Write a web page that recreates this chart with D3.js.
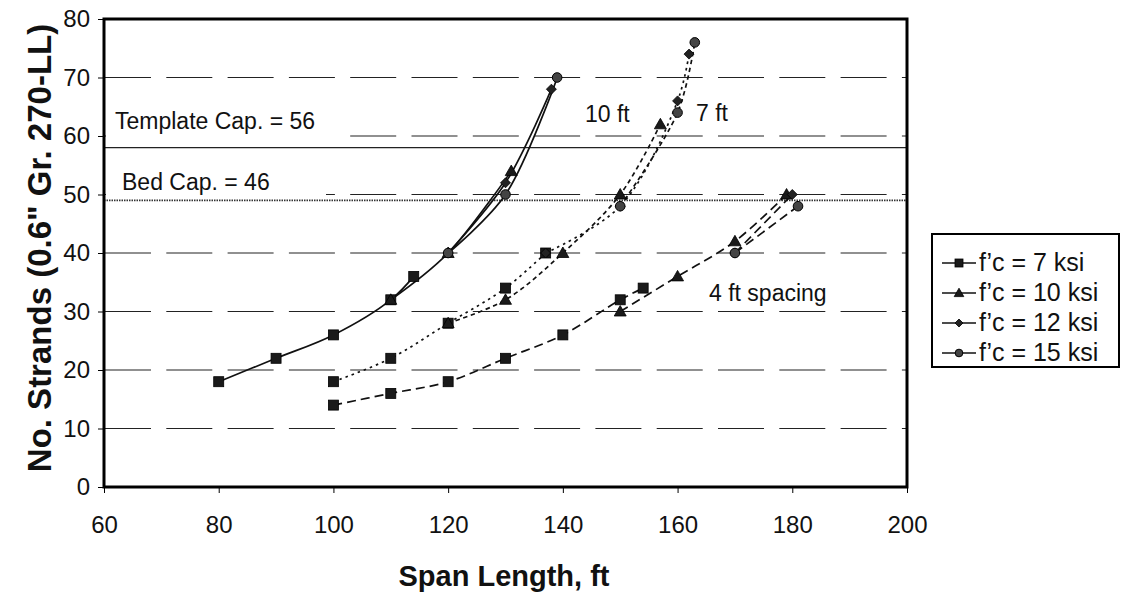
<!DOCTYPE html>
<html><head><meta charset="utf-8">
<script src="https://cdn.jsdelivr.net/npm/d3@7"></script>
<style>
body{margin:0;background:#fff;}
svg{display:block;font-family:"Liberation Sans",Arial,Helvetica,sans-serif;}
</style></head>
<body>
<svg id="c" width="1121" height="595"></svg>
<script>
// ---------------- data ----------------
const xTicks = [60, 80, 100, 120, 140, 160, 180, 200];
const yTicks = [0, 10, 20, 30, 40, 50, 60, 70, 80];
const gridValues = [10, 20, 30, 40, 50, 60, 70];
const fcLabels = ["f\u2019c = 7 ksi", "f\u2019c = 10 ksi", "f\u2019c = 12 ksi", "f\u2019c = 15 ksi"];
const markerTypes = ["square", "triangle", "diamond", "circle"];

// 10 ft spacing (solid)
const s10_fc7_x = [80, 90, 100, 110, 114];   const s10_fc7_y = [18, 22, 26, 32, 36];
const s10_fc10_x = [110, 120, 131];          const s10_fc10_y = [32, 40, 54];
const s10_fc12_x = [120, 130, 138];          const s10_fc12_y = [40, 52, 68];
const s10_fc15_x = [120, 130, 139];          const s10_fc15_y = [40, 50, 70];
// 7 ft spacing (dotted / short dash)
const s7_fc7_x = [100, 110, 120, 130, 137];  const s7_fc7_y = [18, 22, 28, 34, 40];
const s7_fc10_x = [120, 130, 140, 150, 157]; const s7_fc10_y = [28, 32, 40, 50, 62];
const s7_fc12_x = [137, 150, 160, 162];      const s7_fc12_y = [40, 48, 66, 74];
const s7_fc15_x = [150, 160, 163];           const s7_fc15_y = [48, 64, 76];
// 4 ft spacing (dashed)
const s4_fc7_x = [100, 110, 120, 130, 140, 150, 154]; const s4_fc7_y = [14, 16, 18, 22, 26, 32, 34];
const s4_fc10_x = [150, 160, 170, 179];      const s4_fc10_y = [30, 36, 42, 50];
const s4_fc12_x = [170, 180];                const s4_fc12_y = [40, 50];
const s4_fc15_x = [170, 181];                const s4_fc15_y = [40, 48];

const capValues = [58, 49];
const capLabels = ["Template Cap. = 56", "Bed Cap. = 46"];
const groupLabels = ["10 ft", "7 ft", "4 ft spacing"];

// ---------------- build ----------------
const zip = (xs, ys) => xs.map((v, i) => ({x: v, y: ys[i]}));
const series = [
  {g: 0, m: 0, pts: zip(s10_fc7_x, s10_fc7_y)},
  {g: 0, m: 1, pts: zip(s10_fc10_x, s10_fc10_y)},
  {g: 0, m: 2, pts: zip(s10_fc12_x, s10_fc12_y)},
  {g: 0, m: 3, pts: zip(s10_fc15_x, s10_fc15_y)},
  {g: 1, m: 0, pts: zip(s7_fc7_x, s7_fc7_y), dash: "2.5,4"},
  {g: 1, m: 1, pts: zip(s7_fc10_x, s7_fc10_y), dash: "4.5,3.5"},
  {g: 1, m: 2, pts: zip(s7_fc12_x, s7_fc12_y), dash: "2.5,4"},
  {g: 1, m: 3, pts: zip(s7_fc15_x, s7_fc15_y), dash: "4.5,3.5"},
  {g: 2, m: 0, pts: zip(s4_fc7_x, s4_fc7_y), dash: "9,5"},
  {g: 2, m: 1, pts: zip(s4_fc10_x, s4_fc10_y), dash: "9,5"},
  {g: 2, m: 2, pts: zip(s4_fc12_x, s4_fc12_y), dash: "9,5"},
  {g: 2, m: 3, pts: zip(s4_fc15_x, s4_fc15_y), dash: "9,5"}
];

const svg = d3.select("#c");
const L = 104, R = 907, T = 19, B = 487;
const x = d3.scaleLinear().domain([60, 200]).range([L, R]);
const y = d3.scaleLinear().domain([0, 80]).range([B, T]);

// gridlines
svg.append("g").selectAll("line").data(gridValues).join("line")
  .attr("x1", L + 1).attr("x2", R).attr("y1", d => y(d)).attr("y2", d => y(d))
  .attr("stroke", "#222").attr("stroke-width", 1.2).attr("stroke-dasharray", "46,15.3");

// capacity lines
svg.append("line").attr("x1", L).attr("x2", R).attr("y1", y(capValues[0])).attr("y2", y(capValues[0]))
  .attr("stroke", "#222").attr("stroke-width", 1.3);
svg.append("line").attr("x1", L).attr("x2", R).attr("y1", y(capValues[1])).attr("y2", y(capValues[1]))
  .attr("stroke", "#333").attr("stroke-width", 1.6).attr("stroke-dasharray", "1.5,1");

// cap labels with white background
const capLab = [{t: capLabels[0], x: 115, y: 129, bx: 106, bw: 240, by: 103, bh: 38},
                {t: capLabels[1], x: 122, y: 190, bx: 106, bw: 220, by: 163, bh: 34}];
capLab.forEach(c => {
  svg.append("rect").attr("x", c.bx).attr("y", c.by).attr("width", c.bw).attr("height", c.bh).attr("fill", "#fff");
  svg.append("text").attr("x", c.x).attr("y", c.y).attr("font-size", 23).attr("fill", "#111").text(c.t);
});

// lines
const line = d3.line().x(d => x(d.x)).y(d => y(d.y)).curve(d3.curveCatmullRom.alpha(0.5));
svg.append("g").selectAll("path").data(series).join("path")
  .attr("d", d => line(d.pts)).attr("fill", "none").attr("stroke", "#111")
  .attr("stroke-width", 1.7).attr("stroke-dasharray", d => d.dash || null);

// markers
function drawMarker(sel, type, cx, cy, scale) {
  const s = scale || 1;
  if (type === "square") {
    sel.append("rect").attr("x", cx - 5 * s).attr("y", cy - 5 * s).attr("width", 10 * s).attr("height", 10 * s)
      .attr("fill", "#1a1a1a").attr("stroke", "#000").attr("stroke-width", 0.8);
  } else if (type === "triangle") {
    const h = 6 * s;
    sel.append("path").attr("d", `M${cx},${cy - h}L${cx + h},${cy + h * 0.75}L${cx - h},${cy + h * 0.75}Z`)
      .attr("fill", "#1a1a1a").attr("stroke", "#000").attr("stroke-width", 0.8);
  } else if (type === "diamond") {
    const h = 5 * s;
    sel.append("path").attr("d", `M${cx},${cy - h}L${cx + h},${cy}L${cx},${cy + h}L${cx - h},${cy}Z`)
      .attr("fill", "#222").attr("stroke", "#000").attr("stroke-width", 0.8);
  } else {
    sel.append("circle").attr("cx", cx).attr("cy", cy).attr("r", 4.8 * s)
      .attr("fill", "#444").attr("stroke", "#000").attr("stroke-width", 1);
  }
}
const mg = svg.append("g");
series.forEach(sr => sr.pts.forEach(p => drawMarker(mg, markerTypes[sr.m], x(p.x), y(p.y))));

// group labels
const grpPos = [{x: 585, y: 122}, {x: 696, y: 121}, {x: 709, y: 301}];
groupLabels.forEach((t, i) => svg.append("text").attr("x", grpPos[i].x).attr("y", grpPos[i].y)
  .attr("font-size", 23).attr("fill", "#111").text(t));

// frame
svg.append("rect").attr("x", L).attr("y", T).attr("width", R - L).attr("height", B - T)
  .attr("fill", "none").attr("stroke", "#000").attr("stroke-width", 3);

// axes
const xAxis = d3.axisBottom(x).tickValues(xTicks).tickSize(6).tickPadding(23).tickFormat(d3.format("d"));
const gx = svg.append("g").attr("transform", `translate(0,${B})`).call(xAxis);
gx.select(".domain").remove();
gx.selectAll("text").attr("font-size", 24).attr("fill", "#111").attr("font-family", "Liberation Sans, Arial, sans-serif");
const yAxis = d3.axisLeft(y).tickValues(yTicks).tickSize(6).tickPadding(8).tickFormat(d3.format("d"));
const gy = svg.append("g").attr("transform", `translate(${L},0)`).call(yAxis);
gy.select(".domain").remove();
gy.selectAll("text").attr("font-size", 24).attr("fill", "#111").attr("font-family", "Liberation Sans, Arial, sans-serif");

// axis titles
svg.append("text").attr("x", 504).attr("y", 586).attr("text-anchor", "middle")
  .attr("font-size", 29).attr("font-weight", "bold").attr("fill", "#111").text("Span Length, ft");
svg.append("text").attr("transform", `translate(51,248) rotate(-90)`).attr("text-anchor", "middle")
  .attr("font-size", 33).attr("font-weight", "bold").attr("fill", "#111").text("No. Strands (0.6\" Gr. 270-LL)");

// legend
const lg = svg.append("g");
lg.append("rect").attr("x", 932).attr("y", 234).attr("width", 187).attr("height", 133)
  .attr("fill", "#fff").attr("stroke", "#000").attr("stroke-width", 2);
fcLabels.forEach((t, i) => {
  const yy = 263 + i * 30;
  lg.append("line").attr("x1", 942).attr("x2", 976).attr("y1", yy).attr("y2", yy).attr("stroke", "#111").attr("stroke-width", 1.5);
  drawMarker(lg, markerTypes[i], 959, yy, 0.8);
  lg.append("text").attr("x", 979).attr("y", yy + 8).attr("font-size", 25).attr("fill", "#111").text(t);
});
</script>
</body></html>
